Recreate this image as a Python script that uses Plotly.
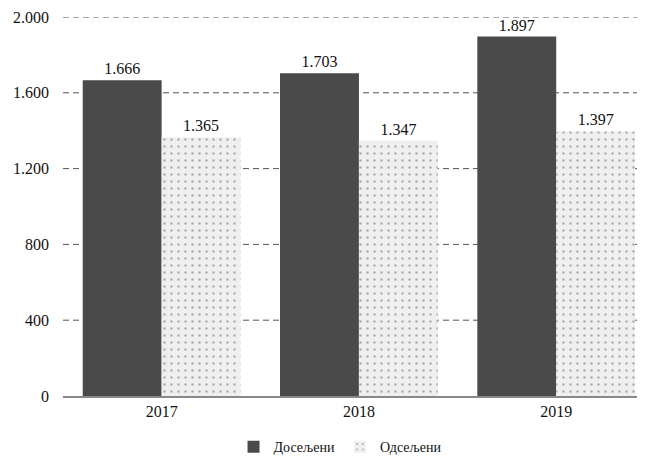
import plotly.graph_objects as go

years = ["2017", "2018", "2019"]
doseljeni = [1666, 1703, 1897]
odseljeni = [1365, 1347, 1397]
y_ticks = [0, 400, 800, 1200, 1600, 2000]

fig = go.Figure()
fig.add_trace(go.Bar(
    x=years, y=doseljeni, name="Досељени",
    marker=dict(color="#4a4a4a", line=dict(width=0)),
    texttemplate="%{y:,d}", textposition="outside",
    textfont=dict(size=16, color="#111111"), cliponaxis=False,
))
fig.add_trace(go.Bar(
    x=years, y=odseljeni, name="Одсељени",
    marker=dict(color="#efefef", line=dict(width=0),
                pattern=dict(shape=".", fgcolor="#6a6a6a", size=7, solidity=0.1)),
    texttemplate="%{y:,d}", textposition="outside",
    textfont=dict(size=16, color="#111111"), cliponaxis=False,
))

# dashed gridlines behind the bars
for v in y_ticks[1:]:
    fig.add_hline(y=v, line=dict(color="#555555", width=1, dash="6px,4px"), layer="below")

# page body has an 8px margin, so the figure is 8px smaller than the window
fig.update_layout(
    width=637, height=453,
    margin=dict(l=55, r=0, t=9, b=65, autoexpand=False),
    paper_bgcolor="white", plot_bgcolor="white",
    font=dict(family="Liberation Serif, Times New Roman, serif", size=16, color="#111111"),
    separators=",.",
    barmode="group", bargap=0.2, bargroupgap=0.0,
    legend=dict(orientation="h", x=0.476, xanchor="center",
                y=-0.135, yanchor="middle", font=dict(size=14)),
    showlegend=True,
)
fig.update_yaxes(
    range=[0, 2000], tickvals=y_ticks, tickformat=",d",
    showgrid=False, zeroline=False, ticks="", showline=False,
    ticklabelstandoff=13, automargin=False,
)
fig.update_xaxes(
    range=[-0.5, 2.45], automargin=False,
    showline=True, linecolor="#888888", linewidth=1.5, ticks="",
)

fig.write_html("out.html")
